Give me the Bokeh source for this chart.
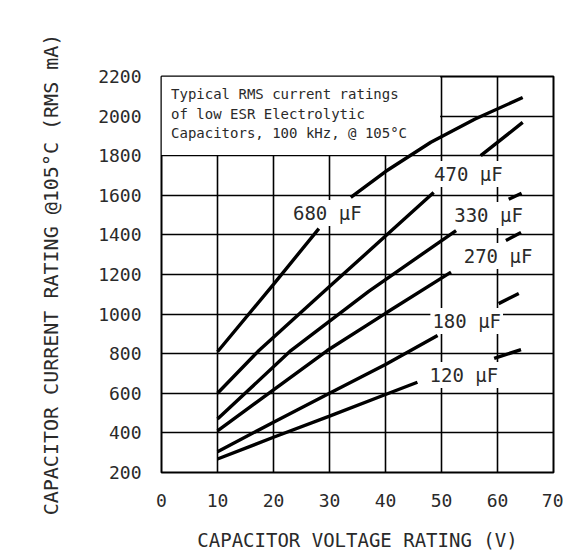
import numpy as np
from bokeh.plotting import figure
from bokeh.models import FixedTicker, BoxAnnotation, Range1d
from bokeh.core.properties import value
from bokeh.embed import file_html
from bokeh.resources import INLINE

nan = np.nan

# ---- data (NaN = gap left for a label) ----
x_ticks = [0, 10, 20, 30, 40, 50, 60, 70]
y_ticks = [200, 400, 600, 800, 1000, 1200, 1400, 1600, 1800, 2000, 2200]

c680_v = [10, 20, 28.1, nan, 33.8, 40, 48.1, 56, 64.5]
c680_i = [810, 1150, 1432, nan, 1589, 1720, 1868, 1985, 2094]

c470_v = [10, 17.4, 30, 40, 48.6, nan, 57, 64.5]
c470_i = [600, 816, 1139, 1394, 1614, nan, 1800, 1968]

c330_v = [10, 23.1, 37, 52.6, nan, 62, 64.3]
c330_i = [470, 816, 1115, 1422, nan, 1580, 1610]

c270_v = [10, 29.6, 40, 51.7, nan, 61.5, 64.2]
c270_i = [410, 816, 1004, 1212, nan, 1372, 1412]

c180_v = [10, 20, 30, 40, 49.3, nan, 60.2, 63.8]
c180_i = [305, 454, 600, 745, 892, nan, 1053, 1104]

c120_v = [10, 20, 30, 40, 45.7, nan, 59.4, 64.2]
c120_i = [268, 378, 485, 594, 656, nan, 776, 821]

cap_labels = ["680 µF", "470 µF", "330 µF", "270 µF", "180 µF", "120 µF"]
label_v = [29.6, 54.8, 58.4, 60.1, 54.5, 54.0]
label_i = [1511, 1708, 1500, 1293, 965, 692]

note_lines = ["Typical RMS current ratings",
              "of low ESR Electrolytic",
              "Capacitors, 100 kHz, @ 105°C"]
note_v = [1.7, 1.7, 1.7]
note_i = [2114, 2013, 1917]

FONT = "DejaVu Sans Mono"
TXT = "#2a2a2a"

p = figure(frame_width=392, frame_height=396,
           min_border_left=161, min_border_right=10,
           min_border_top=76, min_border_bottom=70,
           x_range=Range1d(0, 70), y_range=Range1d(200, 2200),
           output_backend="svg", toolbar_location=None,
           background_fill_color="white", border_fill_color="white")

p.outline_line_color = "black"
p.outline_line_width = 2

for ax, ticks in ((p.xaxis, x_ticks), (p.yaxis, y_ticks)):
    ax.ticker = FixedTicker(ticks=ticks)
    ax.axis_line_color = None
    ax.major_tick_line_color = None
    ax.minor_tick_line_color = None
    ax.major_tick_in = 0
    ax.major_tick_out = 0
    ax.major_label_text_font = FONT
    ax.major_label_text_font_size = "18px"
    ax.major_label_text_color = TXT
    ax.axis_label_text_font = FONT
    ax.axis_label_text_font_style = "normal"
    ax.axis_label_text_color = TXT

p.xaxis.axis_label = "CAPACITOR VOLTAGE RATING (V)"
p.xaxis.axis_label_text_font_size = "19px"
p.xaxis.major_label_standoff = 21
p.xaxis.axis_label_standoff = 19

p.yaxis.axis_label = "CAPACITOR CURRENT RATING @105°C (RMS mA)"
p.yaxis.axis_label_text_font_size = "20px"
p.yaxis.major_label_standoff = 20
p.yaxis.axis_label_standoff = 32

p.xgrid.ticker = FixedTicker(ticks=x_ticks)
p.ygrid.ticker = FixedTicker(ticks=y_ticks)
for g in (p.xgrid, p.ygrid):
    g.grid_line_color = "black"
    g.grid_line_width = 1.6
    g.grid_line_alpha = 1.0

# blank area for the note (no grid lines there)
p.add_layout(BoxAnnotation(left=0, right=49.75, bottom=1804, top=2200,
                           fill_color="white", fill_alpha=1.0,
                           line_color=None, level="underlay"))

# note text
p.text(x=note_v, y=note_i, text=note_lines,
       text_font=value(FONT), text_font_size="14px", text_color=TXT,
       text_align="left", text_baseline="middle")

# curve labels (white background breaks the grid lines)
p.text(x=label_v, y=label_i, text=cap_labels,
       text_font=value(FONT), text_font_size="19px", text_color=TXT,
       text_align="center", text_baseline="middle",
       background_fill_color="white", padding=2)

for xs, ys in ((c680_v, c680_i), (c470_v, c470_i), (c330_v, c330_i),
               (c270_v, c270_i), (c180_v, c180_i), (c120_v, c120_i)):
    p.line(x=np.array(xs, dtype=float), y=np.array(ys, dtype=float),
           line_color="black", line_width=3.4)

open("out.html", "w").write(file_html(p, INLINE))
